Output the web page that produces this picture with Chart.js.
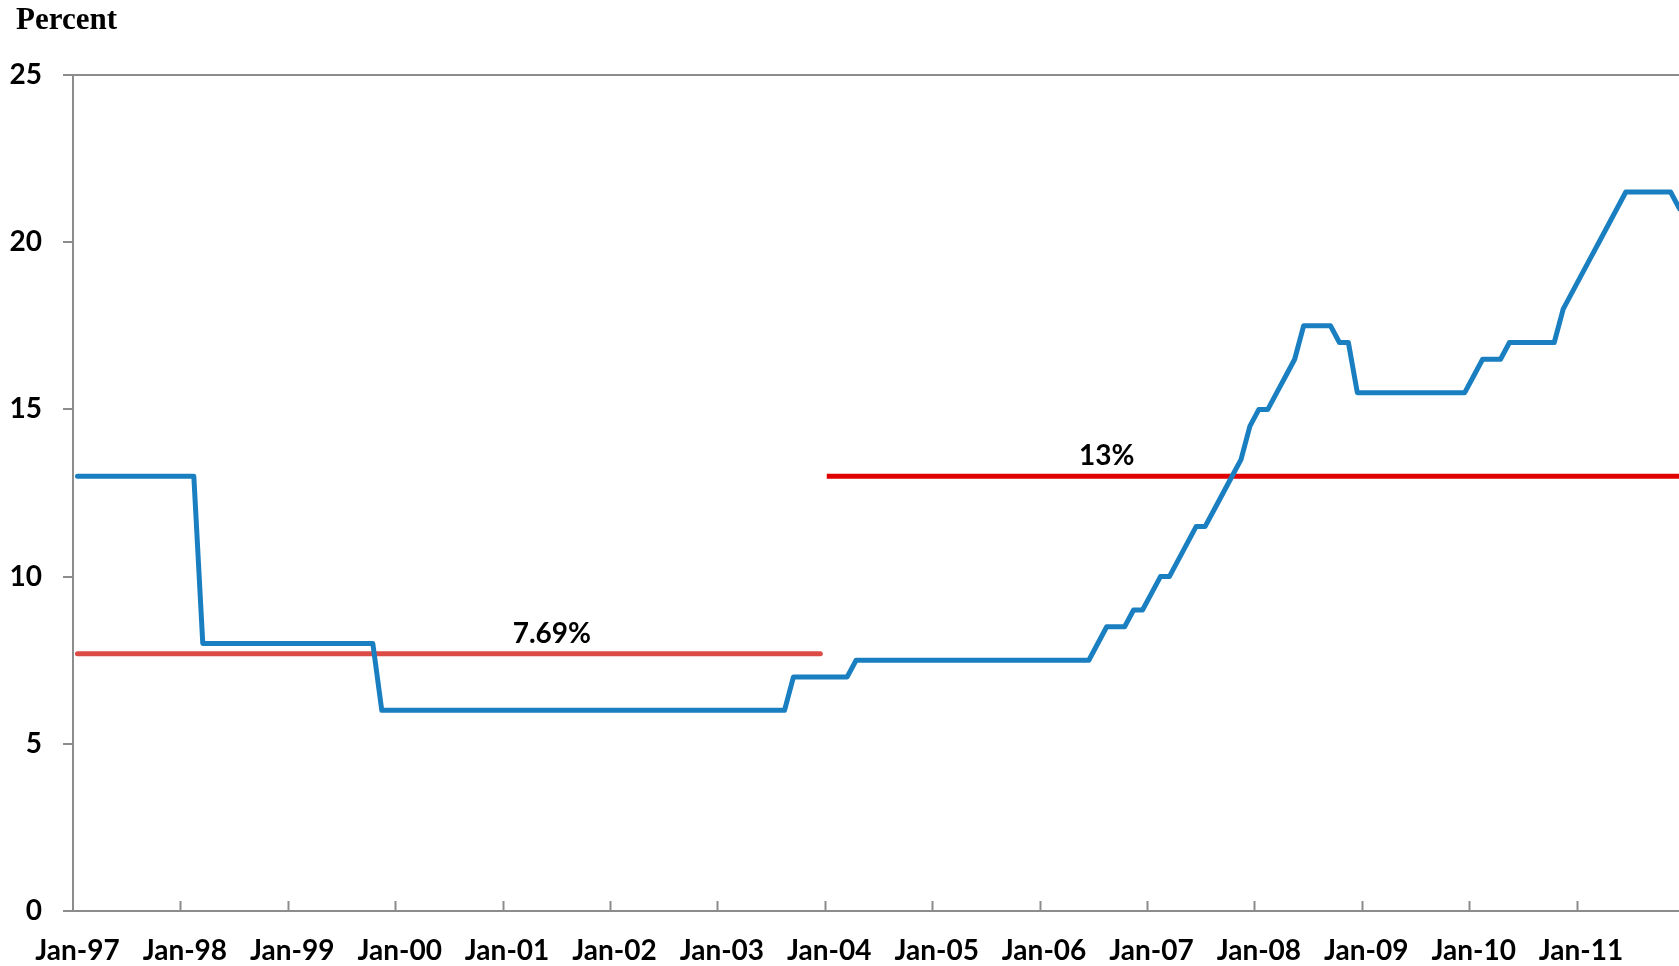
<!DOCTYPE html>
<html>
<head>
<meta charset="utf-8">
<script src="https://cdn.jsdelivr.net/npm/chart.js@4.4.1/dist/chart.umd.min.js"></script>
<style>
  html, body { margin: 0; padding: 0; background: #fff; overflow: hidden; }
  canvas { display: block; }
</style>
</head>
<body>
<canvas id="myChart" width="1684" height="966"></canvas>
<script>
const years = ['97', '98', '99', '00', '01', '02', '03', '04', '05', '06', '07', '08', '09', '10', '11'];
const monthNames = ['Jan', 'Feb', 'Mar', 'Apr', 'May', 'Jun', 'Jul', 'Aug', 'Sep', 'Oct', 'Nov', 'Dec'];

// monthly rate, one row per year
const rate = [
  13, 13, 13, 13, 13, 13, 13, 13, 13, 13, 13, 13,                       // 97
  13, 13, 8, 8, 8, 8, 8, 8, 8, 8, 8, 8,                                 // 98
  8, 8, 8, 8, 8, 8, 8, 8, 8, 8, 6, 6,                                   // 99
  6, 6, 6, 6, 6, 6, 6, 6, 6, 6, 6, 6,                                   // 00
  6, 6, 6, 6, 6, 6, 6, 6, 6, 6, 6, 6,                                   // 01
  6, 6, 6, 6, 6, 6, 6, 6, 6, 6, 6, 6,                                   // 02
  6, 6, 6, 6, 6, 6, 6, 6, 7, 7, 7, 7,                                   // 03
  7, 7, 7, 7.5, 7.5, 7.5, 7.5, 7.5, 7.5, 7.5, 7.5, 7.5,                 // 04
  7.5, 7.5, 7.5, 7.5, 7.5, 7.5, 7.5, 7.5, 7.5, 7.5, 7.5, 7.5,           // 05
  7.5, 7.5, 7.5, 7.5, 7.5, 7.5, 8, 8.5, 8.5, 8.5, 9, 9,                 // 06
  9.5, 10, 10, 10.5, 11, 11.5, 11.5, 12, 12.5, 13, 13.5, 14.5,          // 07
  15, 15, 15.5, 16, 16.5, 17.5, 17.5, 17.5, 17.5, 17, 17, 15.5,         // 08
  15.5, 15.5, 15.5, 15.5, 15.5, 15.5, 15.5, 15.5, 15.5, 15.5, 15.5, 15.5, // 09
  16, 16.5, 16.5, 16.5, 17, 17, 17, 17, 17, 17, 18, 18.5,               // 10
  19, 19.5, 20, 20.5, 21, 21.5, 21.5, 21.5, 21.5, 21.5, 21.5, 21        // 11
];

// period averages
const avgLevels = [7.69, 13];
const avgFrom = ['Jan-97', 'Jan-04'];
const avgTo = ['Dec-03', 'Dec-11'];
const avgLabelAt = ['Jun-01', 'Aug-06'];
const avgColors = ['#DB4C47', '#E00000'];

const yTicks = [0, 5, 10, 15, 20, 25];

const labels = [];
years.forEach(y => monthNames.forEach(m => labels.push(m + '-' + y)));

const avgSeries = avgLevels.map((lvl, k) => {
  const a = labels.indexOf(avgFrom[k]);
  const b = labels.indexOf(avgTo[k]);
  return labels.map((_, i) => (i >= a && i <= b ? lvl : null));
});

const axisGray = '#8c8c8c';
const tickFont = { family: 'Lato', size: 28, weight: 'bold' };

// x tick marks sit between months and point up into the plot
const innerTicks = {
  id: 'innerTicks',
  afterDraw(chart) {
    const { ctx } = chart;
    const x = chart.scales.x;
    const half = (x.getPixelForValue(1) - x.getPixelForValue(0)) / 2;
    const base = chart.chartArea.bottom;
    ctx.save();
    ctx.strokeStyle = axisGray;
    ctx.lineWidth = 2;
    x.ticks.forEach(t => {
      if (t.value === 0) return;
      const px = Math.round(x.getPixelForValue(t.value) - half) + 0.5;
      ctx.beginPath();
      ctx.moveTo(px, base);
      ctx.lineTo(px, base - 10);
      ctx.stroke();
    });
    ctx.restore();
  }
};

const avgLabels = {
  id: 'avgLabels',
  afterDatasetsDraw(chart) {
    const { ctx } = chart;
    const x = chart.scales.x;
    const y = chart.scales.y;
    ctx.save();
    ctx.font = 'bold 28px Lato';
    ctx.fillStyle = '#000';
    ctx.textAlign = 'center';
    ctx.textBaseline = 'middle';
    avgLevels.forEach((lvl, k) => {
      const px = x.getPixelForValue(labels.indexOf(avgLabelAt[k]));
      ctx.fillText(lvl + '%', px, y.getPixelForValue(lvl) - 20);
    });
    ctx.restore();
  },
  afterDraw(chart) {
    const { ctx } = chart;
    ctx.save();
    ctx.font = 'bold 31px "Liberation Serif"';
    ctx.fillStyle = '#000';
    ctx.textAlign = 'left';
    ctx.textBaseline = 'alphabetic';
    ctx.fillText('Percent', 16, 29);
    ctx.restore();
  }
};

const ctx = document.getElementById('myChart');

new Chart(ctx, {
  type: 'line',
  data: {
    labels: labels,
    datasets: [
      {
        data: rate,
        borderColor: '#1A7FC1',
        borderWidth: 5,
        borderJoinStyle: 'round',
        borderCapStyle: 'round',
        pointRadius: 0,
        tension: 0
      },
      {
        data: avgSeries[0],
        borderColor: avgColors[0],
        borderWidth: 5,
        borderCapStyle: 'round',
        pointRadius: 0
      },
      {
        data: avgSeries[1],
        borderColor: avgColors[1],
        borderWidth: 5,
        borderCapStyle: 'square',
        pointRadius: 0
      }
    ]
  },
  options: {
    responsive: false,
    animation: false,
    devicePixelRatio: 1,
    layout: { padding: { top: 75, left: 0, right: 0, bottom: 0 } },
    plugins: {
      legend: { display: false },
      tooltip: { enabled: false }
    },
    scales: {
      x: {
        type: 'category',
        offset: true,
        border: { display: true, color: axisGray, width: 2 },
        grid: { display: false },
        ticks: {
          autoSkip: false,
          maxRotation: 0,
          minRotation: 0,
          padding: 15,
          color: '#000',
          font: tickFont
        },
        afterBuildTicks(axis) {
          axis.ticks = axis.ticks.filter(t => labels[t.value].startsWith('Jan'));
        },
        afterFit(axis) { axis.height = 55; }
      },
      y: {
        min: 0,
        max: 25,
        border: { display: true, color: axisGray, width: 2 },
        grid: {
          color: c => (c.tick && c.tick.value === 25 ? axisGray : 'rgba(0,0,0,0)'),
          tickColor: axisGray,
          lineWidth: 2,
          tickLength: 10
        },
        afterBuildTicks(axis) {
          axis.ticks = yTicks.map(v => ({ value: v }));
        },
        ticks: {
          padding: 21,
          color: '#000',
          font: tickFont
        },
        afterFit(axis) { axis.width = 73; }
      }
    }
  },
  plugins: [innerTicks, avgLabels]
});
</script>
</body>
</html>
